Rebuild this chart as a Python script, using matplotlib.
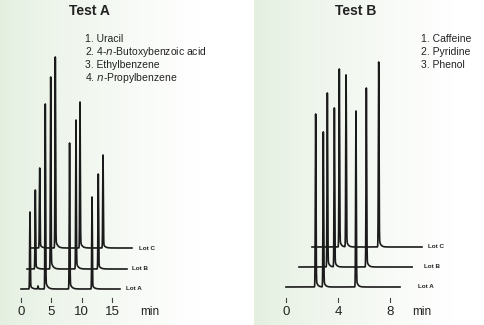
import numpy as np
import matplotlib.pyplot as plt

plt.rcParams['font.family'] = ['Liberation Sans', 'DejaVu Sans']

# Test A: retention times (min, from each lot's own start) and peak heights
lots = ["Lot A", "Lot B", "Lot C"]
a_times = [[1.48, 4.00, 8.00, 11.70],
           [1.37, 3.90, 8.07, 11.74],
           [1.60, 4.17, 8.24, 12.03]]
a_heights = [[77, 185, 146, 92],
             [79, 192, 149, 95],
             [80, 191, 146, 93]]
a_run_end = [16.3, 16.47, 16.8]
a_compounds = ["1. Uracil", "2. 4-$n$-Butoxybenzoic acid",
               "3. Ethylbenzene", "4. $n$-Propylbenzene"]
a_ticks = [0, 5, 10, 15]

# Test B
b_times = [[2.28, 2.87, 5.38],
           [2.18, 2.72, 5.18],
           [2.10, 2.62, 5.13]]
b_heights = [[173, 155, 176],
             [174, 159, 179],
             [178, 172, 185]]
b_run_end = [8.77, 8.70, 8.46]
b_compounds = ["1. Caffeine", "2. Pyridine", "3. Phenol"]
b_ticks = [0, 4, 8]

W, H = 485, 325
fig = plt.figure(figsize=(W / 100, H / 100), dpi=100)

# pale green panels fading to white
bg = fig.add_axes([0, 0, 1, 1])
bg.set_axis_off()
green = np.array([0.894, 0.937, 0.878])
white = np.array([1.0, 1.0, 1.0])
cols = np.zeros((1, W, 3))
for px in range(W):
    if px < 254:
        f = min(px / 200.0, 1.0)
    else:
        f = min((px - 254) / 200.0, 1.0)
    f = f ** 0.8
    cols[0, px] = green * (1 - f) + white * f
bg.imshow(cols, aspect='auto', extent=[0, 1, 0, 1])
bg.set_xlim(0, 1)
bg.set_ylim(0, 1)


def peak(t, t0, h, s, tau):
    z = (t - t0) / s
    core = np.exp(-0.5 * z ** 2)
    tail = np.where(t > t0, np.exp(-(t - t0) / max(tau, 1e-9)), 0.0)
    return h * (core + 0.05 * tail * (1 - core))


def panel(rect, xlim, ylim, times, heights, run_end, x_off, y_off,
          label_x, sigma, tau, small=None):
    ax = fig.add_axes(rect)
    ax.set_xlim(*xlim)
    ax.set_ylim(*ylim)
    ax.set_axis_off()
    ax.patch.set_alpha(0)
    for i in range(len(times)):
        t = np.linspace(0, run_end[i], 20000)
        y = np.zeros_like(t)
        for t0, h in zip(times[i], heights[i]):
            y += peak(t, t0, h, sigma, tau)
        if small is not None and i == 0:
            y += peak(t, small[0], small[1], sigma, tau)
        ax.plot(t + x_off[i], y + y_off[i], color='#1a1a1a', lw=1.2,
                solid_joinstyle='round')
        ax.text(label_x[i], y_off[i], lots[i], fontsize=4.5,
                fontweight='bold', color='#222222', va='center', ha='left')
    return ax


# Test A panel: 0 min at x=21px, 6.07 px/min, Lot A baseline at y=289px
sa = 6.07
ax_a = panel([0, 0, 254 / W, 1],
             (-21 / sa, (254 - 21) / sa), (-(H - 289), 289),
             a_times, a_heights, a_run_end,
             x_off=[0, 0.99, 1.48], y_off=[0, 20, 41],
             label_x=[17.3, 18.3, 19.4], sigma=0.05, tau=0.3,
             small=(2.8, 3))
for tk in a_ticks:
    ax_a.plot([tk, tk], [-9, -13], color='#444444', lw=0.8)
    ax_a.text(tk, -23, str(tk), fontsize=9.5, ha='center', va='center',
              color='#222222')
ax_a.text(19.6, -23, "min", fontsize=8.5, ha='left', va='center',
          color='#222222')
ax_a.text((89 - 21) / sa, 289 - 11, "Test A", fontsize=10,
          fontweight='bold', ha='center', va='center', color='#222222')
for k, name in enumerate(a_compounds):
    ax_a.text((85 - 21) / sa, 289 - (39 + 13 * k), name, fontsize=7.5,
              ha='left', va='center', color='#222222')

# Test B panel: 0 min at x=286px, 13 px/min, Lot A baseline at y=287px
sb = 13.0
ax_b = panel([254 / W, 0, (W - 254) / W, 1],
             ((254 - 286) / sb, (W - 286) / sb), (-(H - 287), 287),
             b_times, b_heights, b_run_end,
             x_off=[0, 1.0, 2.0], y_off=[0, 20, 40],
             label_x=[10.15, 10.6, 10.95], sigma=0.025, tau=0.12)
for tk in b_ticks:
    ax_b.plot([tk, tk], [-11, -15], color='#444444', lw=0.8)
    ax_b.text(tk, -25, str(tk), fontsize=9.5, ha='center', va='center',
              color='#222222')
ax_b.text(9.7, -25, "min", fontsize=8.5, ha='left', va='center',
          color='#222222')
ax_b.text((356 - 286) / sb, 287 - 11, "Test B", fontsize=10,
          fontweight='bold', ha='center', va='center', color='#222222')
for k, name in enumerate(b_compounds):
    ax_b.text((421 - 286) / sb, 287 - (39 + 13 * k), name, fontsize=7.5,
              ha='left', va='center', color='#222222')

fig.savefig("out.png", dpi=100)
